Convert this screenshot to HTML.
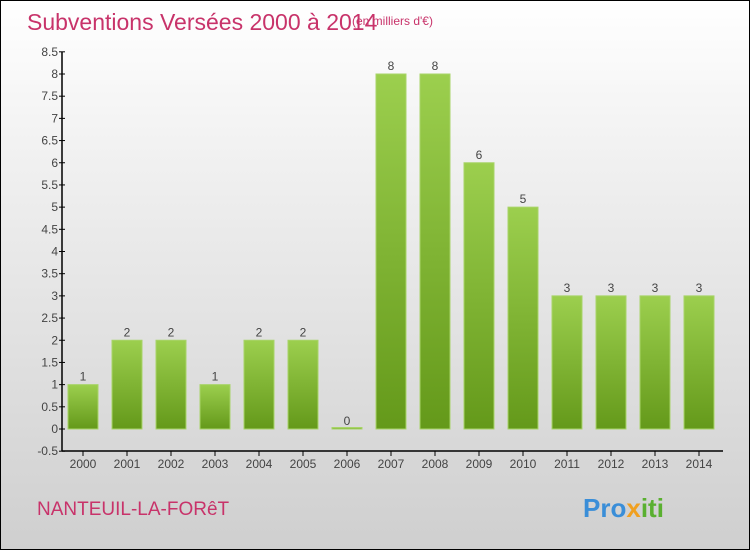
<!DOCTYPE html>
<html><head><meta charset="utf-8"><style>
body{margin:0}
#c{width:750px;height:550px;box-sizing:border-box;border:1px solid #000;background:linear-gradient(#ffffff,#f0f0f0 30%,#cfcfcf);position:relative;font-family:"Liberation Sans",sans-serif;overflow:hidden}
</style></head><body>
<div id="c">
<svg id="s" width="750" height="550" style="position:absolute;left:0;top:0">
<defs><linearGradient id="g" x1="0" y1="0" x2="0" y2="1"><stop offset="0" stop-color="#9ccf4e"/><stop offset="1" stop-color="#64991a"/></linearGradient></defs>
<text x="26" y="29" font-size="23" fill="#c8336a">Subventions Versées 2000 à 2014</text>
<text x="351" y="24" font-size="12" fill="#c8336a">(en milliers d'€)</text>
<text x="36" y="514" font-size="19" fill="#c8336a">NANTEUIL-LA-FORêT</text>
<text x="582" y="516" font-size="26" font-weight="bold" fill="#3a8ed8">Pro<tspan fill="#f0a020">x</tspan><tspan fill="#5ab030">iti</tspan></text>
</svg>
</div>
<script>
const categories=["2000","2001","2002","2003","2004","2005","2006","2007","2008","2009","2010","2011","2012","2013","2014"];
const values=[1,2,2,1,2,2,0,8,8,6,5,3,3,3,3];
const yTicks=[-0.5,0,0.5,1,1.5,2,2.5,3,3.5,4,4.5,5,5.5,6,6.5,7,7.5,8,8.5];
const s=document.getElementById('s');
const NS="http://www.w3.org/2000/svg";
function y(v){return 428-v*44.375;}
function x(i){return 82+i*44;}
function mk(t,a,txt){const e=document.createElementNS(NS,t);for(const k in a)e.setAttribute(k,a[k]);if(txt!==undefined)e.textContent=txt;s.appendChild(e);return e;}
let ax=mk('line',{x1:61,y1:y(8.5),x2:61,y2:450,stroke:'#000','stroke-width':1.5});


let bx=mk('line',{x1:61,y1:450,x2:722,y2:450,stroke:'#000','stroke-width':1.5});


yTicks.forEach(v=>{
 let t=mk('line',{x1:58,y1:y(v),x2:64,y2:y(v),stroke:'#000'});
 
 
 let l=mk('text',{x:57,y:y(v)+4,'font-size':12,'text-anchor':'end',fill:'#444'},String(v));
 
 
});
categories.forEach((c,i)=>{
 const v=values[i],cx=x(i);
 let h=Math.max(y(0)-y(v),1.5);
 let r=mk('rect',{x:cx-15,y:y(0)-h,width:30,height:h,fill:'url(#g)',stroke:'#a8d468','stroke-width':1});
 
 
 let vl=mk('text',{x:cx,y:y(v)-4,'font-size':12,'text-anchor':'middle',fill:'#444'},String(v));
 
 
 let t=mk('line',{x1:cx,y1:450,x2:cx,y2:455,stroke:'#000'});
 
 
 let xl=mk('text',{x:cx,y:467,'font-size':12,'text-anchor':'middle',fill:'#444'},c);
 
 
});
</script>
</body></html>
